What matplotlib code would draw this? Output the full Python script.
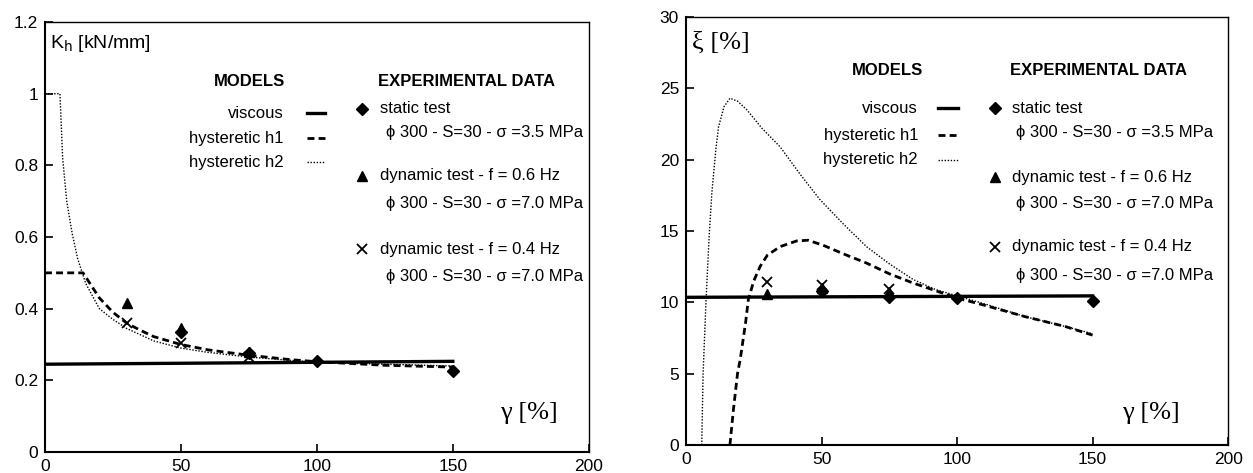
import matplotlib
matplotlib.use('Agg')
import matplotlib.pyplot as plt
from matplotlib import rcParams

rcParams['font.family'] = ['Liberation Sans', 'DejaVu Sans']

# ---- left panel: stiffness K_h vs gamma
visc_k_x = [0, 150]
visc_k_y = [0.245, 0.253]

h1_k_x = [0, 14, 17, 20, 25, 30, 35, 40, 50, 60, 75, 90, 100, 125, 150]
h1_k_y = [0.5, 0.5, 0.465, 0.43, 0.39, 0.36, 0.34, 0.322, 0.30, 0.285, 0.27, 0.258, 0.252, 0.242, 0.237]

h2_k_x = [0, 5.5, 6.5, 8, 10, 12, 15, 20, 25, 30, 40, 50, 60, 75, 100, 125, 150]
h2_k_y = [1.0, 1.0, 0.82, 0.70, 0.61, 0.54, 0.47, 0.40, 0.37, 0.345, 0.31, 0.29, 0.278, 0.265, 0.25, 0.245, 0.24]

static_k_x = [50, 75, 100, 150]
static_k_y = [0.335, 0.275, 0.255, 0.225]
dyn06_k_x = [30, 50, 75]
dyn06_k_y = [0.415, 0.345, 0.28]
dyn04_k_x = [30, 50, 75]
dyn04_k_y = [0.361, 0.304, 0.265]

# ---- right panel: damping xi vs gamma
visc_xi_x = [0, 150]
visc_xi_y = [10.35, 10.45]

h1_xi_x = [16.2, 17.5, 19, 20, 22, 23, 25, 27.3, 30, 34.7, 40.8, 45, 50.6, 58, 66.6, 75, 83.8, 100, 110, 125, 140, 150]
h1_xi_y = [0, 2.5, 5, 6, 8.6, 10.2, 11.5, 12.5, 13.3, 13.9, 14.3, 14.35, 14.0, 13.4, 12.75, 12.0, 11.35, 10.3, 9.8, 9.0, 8.3, 7.7]

h2_xi_x = [5.8, 6.3, 7.4, 8.5, 9.5, 11, 12, 14, 16.2, 19, 22.4, 28, 34.7, 42, 49.4, 58, 66.6, 75, 83.8, 92, 101, 110, 125, 140, 150]
h2_xi_y = [0, 5, 10.2, 14.5, 17.6, 20.7, 22.3, 23.7, 24.3, 24.1, 23.5, 22.2, 20.9, 19.0, 17.2, 15.5, 13.9, 12.7, 11.6, 10.9, 10.4, 9.9, 9.0, 8.3, 7.8]

static_xi_x = [50, 75, 100, 150]
static_xi_y = [10.8, 10.4, 10.3, 10.1]
dyn06_xi_x = [30, 50, 75]
dyn06_xi_y = [10.6, 11.0, 10.7]
dyn04_xi_x = [30, 50, 75]
dyn04_xi_y = [11.4, 11.2, 10.9]

x_ticks = [0, 50, 100, 150, 200]
k_ticks = [0, 0.2, 0.4, 0.6, 0.8, 1.0, 1.2]
k_tick_labels = ['0', '0.2', '0.4', '0.6', '0.8', '1', '1.2']
xi_ticks = [0, 5, 10, 15, 20, 25, 30]

model_labels = ['viscous', 'hysteretic h1', 'hysteretic h2']
exp_labels = ['static test', 'dynamic test - f = 0.6 Hz', 'dynamic test - f = 0.4 Hz']
exp_sub = [u'\u03d5 300 - S=30 - \u03c3 =3.5 MPa',
           u'\u03d5 300 - S=30 - \u03c3 =7.0 MPa',
           u'\u03d5 300 - S=30 - \u03c3 =7.0 MPa']

visc_style = dict(color='black', lw=2.4, ls='-')
h1_style = dict(color='black', lw=2.0, ls=(0, (2.5, 1.5)))
h2_style = dict(color='black', lw=1.0, ls=(0, (1, 1.2)))
mk_static = dict(marker='D', ms=6, color='black', ls='none')
mk_06 = dict(marker='^', ms=7, color='black', ls='none')
mk_04 = dict(marker='x', ms=7, mew=1.3, color='black', ls='none')
serif = ['Liberation Serif', 'DejaVu Serif']

fig = plt.figure(figsize=(12.53, 4.73), dpi=100)
ax1 = fig.add_axes([0.0359, 0.0444, 0.434, 0.909])
ax2 = fig.add_axes([0.5475, 0.0592, 0.4326, 0.905])


def style_axes(ax, yticks, ylabels, ymax):
    ax.set_xlim(0, 200)
    ax.set_ylim(0, ymax)
    ax.set_xticks(x_ticks)
    ax.set_yticks(yticks)
    ax.set_yticklabels(ylabels)
    ax.tick_params(direction='in', length=6, width=1.2, labelsize=12.5,
                   top=False, right=False, pad=5)
    ax.spines['left'].set_linewidth(1.5)
    ax.spines['bottom'].set_linewidth(1.5)
    ax.spines['top'].set_linewidth(1.0)
    ax.spines['right'].set_linewidth(1.0)


def draw_legend(ax, lay):
    tr = ax.transAxes
    ax.text(lay['models_x'], lay['head_y'], 'MODELS', transform=tr, ha='center',
            va='center', fontsize=12, fontweight='bold')
    styles = [visc_style, h1_style, h2_style]
    for lab, st, y in zip(model_labels, styles, lay['model_y']):
        ax.text(lay['model_tx'], y, lab, transform=tr, ha='right', va='center', fontsize=12)
        ax.plot(lay['sample_x'], [y, y], transform=tr, clip_on=False, **st)
    ax.text(lay['exp_x'], lay['head_y'], 'EXPERIMENTAL DATA', transform=tr, ha='left',
            va='center', fontsize=12, fontweight='bold')
    marks = [mk_static, mk_06, mk_04]
    for lab, sub, mk, (y1, y2) in zip(exp_labels, exp_sub, marks, lay['exp_y']):
        ax.plot([lay['mark_x']], [y1], transform=tr, clip_on=False, **mk)
        ax.text(lay['exp_tx'], y1, lab, transform=tr, ha='left', va='center', fontsize=12)
        ax.text(lay['sub_x'], y2, sub, transform=tr, ha='left', va='center', fontsize=12)


# left panel
ax1.plot(visc_k_x, visc_k_y, **visc_style)
ax1.plot(h1_k_x, h1_k_y, **h1_style)
ax1.plot(h2_k_x, h2_k_y, **h2_style)
ax1.plot(static_k_x, static_k_y, **mk_static)
ax1.plot(dyn06_k_x, dyn06_k_y, **mk_06)
ax1.plot(dyn04_k_x, dyn04_k_y, **mk_04)
style_axes(ax1, k_ticks, k_tick_labels, 1.2)
ax1.text(0.009, 0.951, r'K$_{\rm h}$ [kN/mm]', transform=ax1.transAxes, ha='left',
         va='center', fontsize=14)
ax1.text(0.836, 0.091, u'\u03b3 [%]', transform=ax1.transAxes, ha='left',
         va='center', fontsize=19, family=serif)
draw_legend(ax1, dict(models_x=0.377, head_y=0.862, model_tx=0.439,
                      model_y=[0.788, 0.730, 0.674], sample_x=[0.482, 0.515],
                      exp_x=0.612, mark_x=0.583, exp_tx=0.616, sub_x=0.628,
                      exp_y=[(0.798, 0.742), (0.642, 0.579), (0.472, 0.409)]))

# right panel
ax2.plot(visc_xi_x, visc_xi_y, **visc_style)
ax2.plot(h1_xi_x, h1_xi_y, **h1_style)
ax2.plot(h2_xi_x, h2_xi_y, **h2_style)
ax2.plot(static_xi_x, static_xi_y, **mk_static)
ax2.plot(dyn06_xi_x, dyn06_xi_y, **mk_06)
ax2.plot(dyn04_xi_x, dyn04_xi_y, **mk_04)
style_axes(ax2, xi_ticks, [str(t) for t in xi_ticks], 30)
ax2.text(0.011, 0.939, u'\u03be [%]', transform=ax2.transAxes, ha='left',
         va='center', fontsize=19, family=serif)
ax2.text(0.804, 0.075, u'\u03b3 [%]', transform=ax2.transAxes, ha='left',
         va='center', fontsize=19, family=serif)
draw_legend(ax2, dict(models_x=0.371, head_y=0.874, model_tx=0.428,
                      model_y=[0.787, 0.724, 0.666], sample_x=[0.465, 0.502],
                      exp_x=0.598, mark_x=0.570, exp_tx=0.601, sub_x=0.609,
                      exp_y=[(0.787, 0.731), (0.626, 0.565), (0.463, 0.397)]))

plt.savefig('out.png', dpi=100)
